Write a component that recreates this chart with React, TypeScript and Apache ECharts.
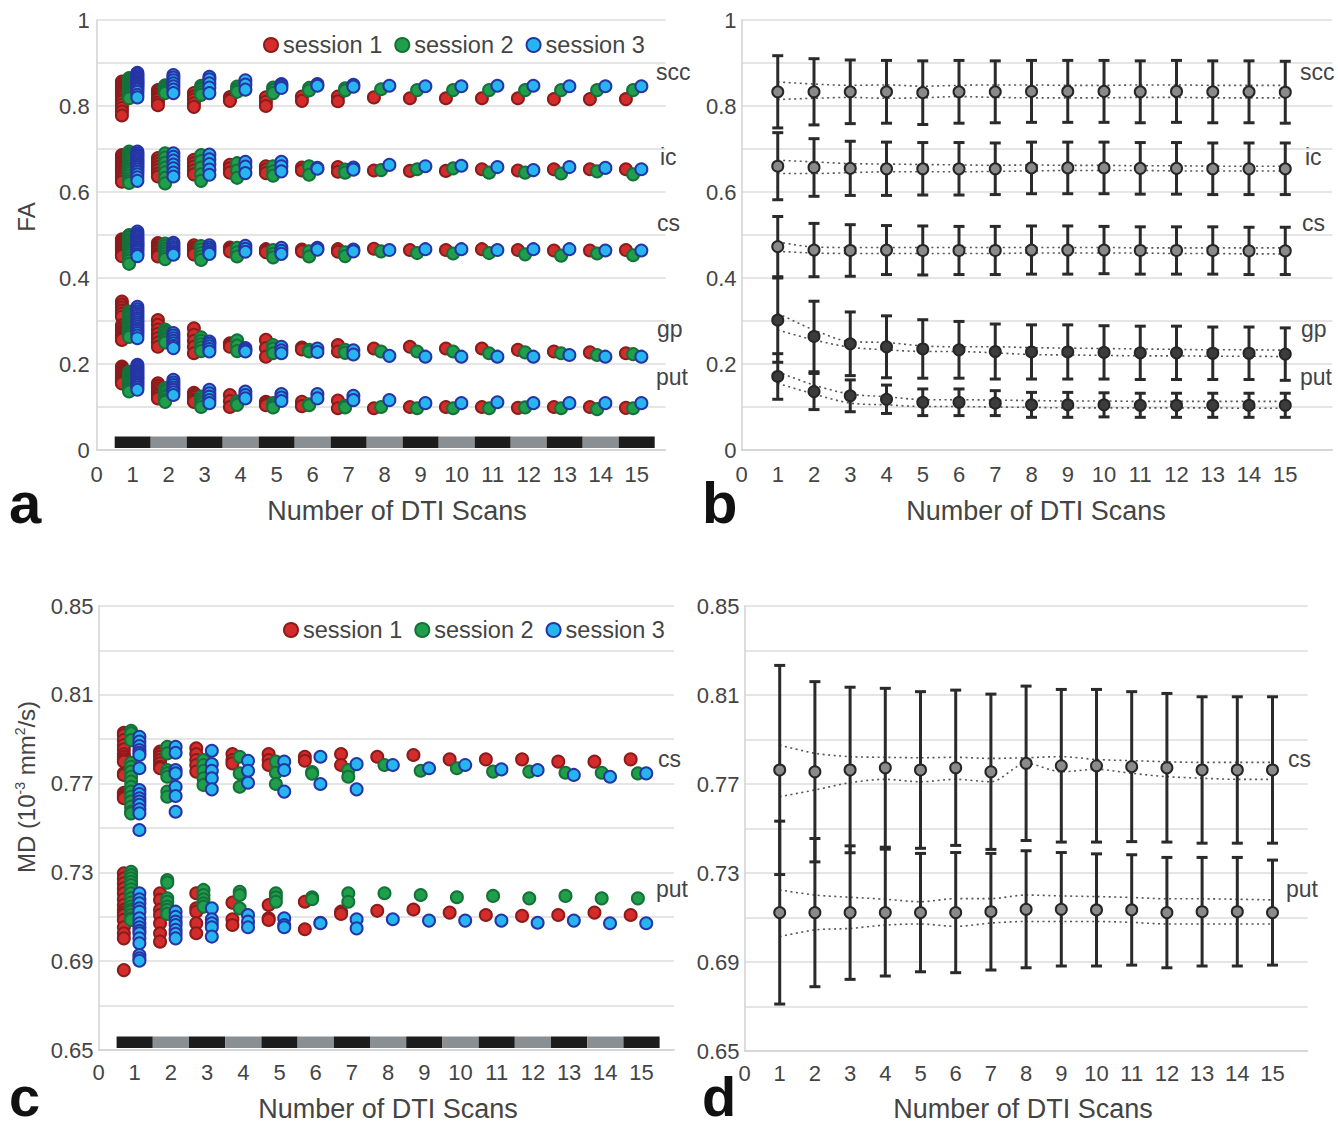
import React, { useEffect, useRef } from 'react';
import * as echarts from 'echarts';

const FONT = '"Liberation Sans", Arial, Helvetica, sans-serif';

// ---------- categories ----------
const scans = [1, 2, 3, 4, 5, 6, 7, 8, 9, 10, 11, 12, 13, 14, 15];
const sessions = ['session 1', 'session 2', 'session 3'];
const faRegions = ['scc', 'ic', 'cs', 'gp', 'put'];
const mdRegions = ['cs', 'put'];
const xTitle = 'Number of DTI Scans';

// ---------- panel a: FA per session (one inner list per number of scans) ----------
const faScc1 = [[0.857,0.852,0.847,0.842,0.838,0.834,0.83,0.826,0.821,0.815,0.81,0.803,0.795,0.787,0.778],[0.837,0.832,0.826,0.82,0.815,0.808,0.802],[0.83,0.822,0.815,0.806,0.798],[0.821,0.816,0.812],[0.82,0.81,0.8],[0.822,0.812],[0.822,0.811],[0.82],[0.818],[0.818],[0.818],[0.818],[0.816],[0.816],[0.816]];
const faScc2 = [[0.865,0.862,0.858,0.855,0.851,0.848,0.845,0.842,0.839,0.836,0.833,0.83,0.826,0.822,0.818],[0.848,0.845,0.842,0.839,0.836,0.833,0.83],[0.847,0.842,0.838,0.832,0.826],[0.845,0.839,0.833],[0.843,0.837,0.83],[0.842,0.836],[0.841,0.836],[0.839],[0.837],[0.837],[0.837],[0.837],[0.837],[0.837],[0.837]];
const faScc3 = [[0.877,0.873,0.869,0.865,0.862,0.858,0.855,0.852,0.849,0.846,0.842,0.838,0.833,0.826,0.82],[0.872,0.866,0.86,0.853,0.846,0.838,0.83],[0.868,0.862,0.853,0.843,0.83],[0.86,0.85,0.838],[0.851,0.847,0.842],[0.851,0.847],[0.849,0.845],[0.847],[0.846],[0.846],[0.847],[0.847],[0.846],[0.846],[0.846]];

const faIc1 = [[0.686,0.682,0.678,0.674,0.67,0.666,0.662,0.658,0.654,0.65,0.646,0.641,0.636,0.63,0.624],[0.679,0.672,0.665,0.658,0.651,0.643,0.636],[0.675,0.667,0.659,0.65,0.641],[0.663,0.655,0.645],[0.66,0.652,0.644],[0.657,0.65],[0.658,0.647],[0.65],[0.649],[0.649],[0.653],[0.65],[0.653],[0.653],[0.653]];
const faIc2 = [[0.694,0.689,0.684,0.679,0.674,0.669,0.664,0.659,0.654,0.649,0.644,0.638,0.632,0.626,0.621],[0.69,0.68,0.668,0.657,0.646,0.633,0.62],[0.686,0.672,0.657,0.641,0.626],[0.667,0.65,0.633],[0.66,0.648,0.638],[0.66,0.64],[0.652,0.645],[0.651],[0.653],[0.655],[0.645],[0.645],[0.643],[0.648],[0.641]];
const faIc3 = [[0.694,0.69,0.686,0.682,0.677,0.673,0.669,0.665,0.661,0.657,0.652,0.647,0.641,0.634,0.626],[0.69,0.682,0.673,0.664,0.655,0.645,0.636],[0.687,0.676,0.665,0.652,0.64],[0.67,0.659,0.644],[0.67,0.66,0.648],[0.656,0.654],[0.657,0.652],[0.663],[0.66],[0.661],[0.658],[0.651],[0.658],[0.656],[0.653]];

const faCs1 = [[0.49,0.487,0.484,0.481,0.478,0.475,0.472,0.469,0.467,0.464,0.462,0.459,0.456,0.453,0.451],[0.481,0.476,0.471,0.466,0.461,0.455,0.45],[0.476,0.47,0.465,0.46,0.455],[0.471,0.466,0.462],[0.467,0.463,0.46],[0.466,0.462],[0.467,0.461],[0.468],[0.465],[0.465],[0.467],[0.465],[0.464],[0.464],[0.465]];
const faCs2 = [[0.5,0.495,0.49,0.486,0.481,0.477,0.473,0.469,0.465,0.461,0.457,0.452,0.446,0.44,0.433],[0.48,0.474,0.468,0.462,0.456,0.45,0.444],[0.474,0.466,0.458,0.45,0.442],[0.47,0.46,0.45],[0.465,0.456,0.448],[0.462,0.45],[0.46,0.451],[0.462],[0.458],[0.457],[0.458],[0.455],[0.452],[0.457],[0.453]];
const faCs3 = [[0.508,0.503,0.498,0.494,0.49,0.486,0.482,0.479,0.476,0.472,0.468,0.464,0.46,0.455,0.451],[0.482,0.477,0.472,0.467,0.462,0.458,0.454],[0.476,0.471,0.466,0.461,0.456],[0.475,0.468,0.461],[0.47,0.463,0.456],[0.47,0.466],[0.466,0.462],[0.465],[0.467],[0.467],[0.465],[0.467],[0.467],[0.464],[0.464]];

const faGp1 = [[0.345,0.338,0.331,0.324,0.317,0.31,0.29,0.285,0.28,0.275,0.27,0.266,0.262,0.259,0.256],[0.302,0.291,0.28,0.27,0.26,0.25,0.24],[0.283,0.268,0.254,0.24,0.225],[0.248,0.244,0.24],[0.256,0.237,0.217],[0.238,0.234],[0.244,0.229],[0.236],[0.24],[0.236],[0.236],[0.233],[0.229],[0.227],[0.225]];
const faGp2 = [[0.322,0.318,0.314,0.31,0.305,0.3,0.296,0.292,0.288,0.284,0.28,0.276,0.272,0.268,0.263],[0.28,0.275,0.27,0.265,0.26,0.255,0.25],[0.262,0.254,0.246,0.238,0.23],[0.255,0.243,0.23],[0.244,0.236,0.225],[0.233,0.229],[0.233,0.226],[0.229],[0.229],[0.229],[0.225],[0.227],[0.225],[0.221],[0.223]];
const faGp3 = [[0.333,0.327,0.322,0.317,0.312,0.307,0.302,0.297,0.292,0.287,0.282,0.277,0.272,0.266,0.26],[0.272,0.266,0.26,0.254,0.248,0.242,0.237],[0.252,0.247,0.241,0.235,0.229],[0.237,0.233,0.229],[0.24,0.232,0.225],[0.236,0.228],[0.232,0.222],[0.219],[0.217],[0.217],[0.217],[0.217],[0.221],[0.217],[0.217]];

const faPut1 = [[0.194,0.19,0.187,0.184,0.181,0.178,0.175,0.172,0.169,0.166,0.164,0.161,0.159,0.157,0.155],[0.155,0.149,0.143,0.137,0.131,0.126,0.12],[0.133,0.128,0.123,0.117,0.112],[0.128,0.114,0.1],[0.112,0.108,0.104],[0.112,0.102],[0.115,0.097],[0.097],[0.1],[0.1],[0.1],[0.098],[0.1],[0.1],[0.098]];
const faPut2 = [[0.182,0.178,0.175,0.172,0.168,0.165,0.162,0.159,0.156,0.153,0.15,0.147,0.143,0.14,0.136],[0.144,0.139,0.134,0.128,0.123,0.117,0.112],[0.124,0.118,0.112,0.106,0.1],[0.113,0.109,0.105],[0.109,0.104,0.099],[0.106,0.104],[0.103,0.099],[0.1],[0.097],[0.097],[0.097],[0.099],[0.097],[0.095],[0.097]];
const faPut3 = [[0.198,0.194,0.19,0.186,0.182,0.178,0.174,0.17,0.166,0.162,0.158,0.154,0.15,0.145,0.14],[0.163,0.157,0.151,0.145,0.14,0.134,0.128],[0.14,0.132,0.124,0.116,0.109],[0.136,0.128,0.12],[0.13,0.122,0.114],[0.13,0.12],[0.126,0.116],[0.116],[0.109],[0.109],[0.111],[0.109],[0.109],[0.109],[0.109]];

// ---------- panel b: FA mean, SD and the two dotted envelope lines ----------
const faSccMean = [0.833,0.833,0.833,0.833,0.831,0.833,0.833,0.834,0.834,0.834,0.833,0.834,0.833,0.833,0.832];
const faSccSd = [0.084,0.077,0.074,0.073,0.074,0.073,0.072,0.072,0.072,0.072,0.072,0.072,0.072,0.072,0.072];
const faSccUp = [0.856,0.851,0.848,0.849,0.846,0.848,0.849,0.849,0.848,0.848,0.849,0.849,0.848,0.848,0.848];
const faSccLow = [0.815,0.818,0.82,0.818,0.819,0.822,0.82,0.819,0.819,0.819,0.82,0.82,0.819,0.819,0.819];

const faIcMean = [0.66,0.657,0.655,0.654,0.654,0.654,0.654,0.656,0.656,0.656,0.655,0.655,0.654,0.654,0.654];
const faIcSd = [0.078,0.067,0.063,0.062,0.061,0.061,0.06,0.06,0.06,0.06,0.06,0.06,0.06,0.06,0.06];
const faIcUp = [0.674,0.67,0.666,0.665,0.664,0.663,0.662,0.663,0.662,0.662,0.661,0.661,0.66,0.66,0.66];
const faIcLow = [0.643,0.643,0.645,0.647,0.647,0.647,0.648,0.649,0.65,0.65,0.65,0.649,0.649,0.649,0.649];

const faCsMean = [0.473,0.465,0.464,0.465,0.464,0.464,0.464,0.465,0.465,0.465,0.464,0.464,0.464,0.463,0.463];
const faCsSd = [0.07,0.062,0.06,0.057,0.057,0.056,0.056,0.056,0.056,0.055,0.055,0.055,0.055,0.055,0.055];
const faCsUp = [0.484,0.472,0.471,0.471,0.471,0.471,0.471,0.471,0.471,0.471,0.47,0.47,0.47,0.47,0.47];
const faCsLow = [0.462,0.458,0.457,0.457,0.457,0.457,0.457,0.458,0.458,0.458,0.458,0.457,0.457,0.456,0.456];

const faGpMean = [0.302,0.264,0.247,0.24,0.235,0.233,0.229,0.228,0.228,0.227,0.226,0.226,0.225,0.225,0.223];
const faGpSd = [0.098,0.082,0.074,0.072,0.068,0.066,0.064,0.063,0.063,0.062,0.062,0.062,0.061,0.061,0.061];
const faGpUp = [0.318,0.279,0.252,0.25,0.242,0.24,0.24,0.238,0.237,0.236,0.235,0.234,0.233,0.233,0.232];
const faGpLow = [0.279,0.256,0.239,0.233,0.229,0.229,0.226,0.222,0.221,0.22,0.219,0.219,0.218,0.218,0.217];

const faPutMean = [0.171,0.136,0.126,0.118,0.111,0.111,0.109,0.105,0.105,0.105,0.104,0.104,0.104,0.104,0.104];
const faPutSd = [0.053,0.042,0.037,0.033,0.031,0.031,0.029,0.029,0.029,0.028,0.028,0.028,0.028,0.028,0.028];
const faPutUp = [0.182,0.151,0.13,0.124,0.117,0.117,0.116,0.115,0.114,0.114,0.113,0.113,0.113,0.113,0.113];
const faPutLow = [0.155,0.13,0.109,0.105,0.101,0.101,0.1,0.099,0.098,0.098,0.098,0.098,0.098,0.097,0.097];

// ---------- panel c: MD per session ----------
const mdCs1 = [[0.7929,0.7919,0.7896,0.7874,0.7854,0.7833,0.7821,0.7809,0.7799,0.7746,0.7739,0.7659,0.7649,0.7641,0.7634],[0.7844,0.7833,0.7821,0.7806,0.7791,0.7776,0.7769],[0.7859,0.7833,0.7806,0.7784,0.7754],[0.7833,0.7806,0.7791],[0.7833,0.7806,0.7784],[0.7821,0.7803],[0.7833,0.7784],[0.7821],[0.7829],[0.7809],[0.7809],[0.7809],[0.7799],[0.7799],[0.7809]];
const mdCs2 = [[0.7938,0.7927,0.7896,0.7794,0.7776,0.7754,0.7731,0.7709,0.7686,0.7664,0.7641,0.7619,0.7596,0.7573,0.7566],[0.7866,0.7836,0.7761,0.7746,0.7731,0.7664,0.7641],[0.7806,0.7784,0.7758,0.7724,0.7694],[0.7821,0.7746,0.7686],[0.7799,0.7749,0.7698],[0.7752,0.7745],[0.7761,0.7731],[0.7784],[0.7758],[0.7769],[0.7754],[0.7754],[0.7749],[0.7749],[0.7746]];
const mdCs3 = [[0.7911,0.7889,0.7869,0.7851,0.7839,0.7829,0.7769,0.7671,0.7653,0.7634,0.7619,0.7604,0.7584,0.7566,0.7491],[0.7866,0.7839,0.7761,0.7746,0.7686,0.7644,0.7573],[0.7848,0.7788,0.7758,0.7724,0.7674],[0.7803,0.7758,0.7704],[0.7799,0.7761,0.7664],[0.7821,0.7698],[0.7788,0.7674],[0.7784],[0.7769],[0.7784],[0.7764],[0.7761],[0.7739],[0.7731],[0.7746]];

const mdPut1 = [[0.7296,0.7273,0.7251,0.7228,0.7206,0.7179,0.7153,0.7131,0.7119,0.7108,0.7086,0.7053,0.7026,0.7003,0.686],[0.7206,0.7176,0.7131,0.7108,0.7071,0.7026,0.6988],[0.7206,0.7138,0.7123,0.7071,0.7026],[0.7164,0.7089,0.7063],[0.7153,0.7093,0.7086],[0.7168,0.7044],[0.7123,0.7113],[0.7127],[0.7133],[0.7119],[0.7108],[0.7104],[0.7108],[0.7119],[0.7108]];
const mdPut2 = [[0.7303,0.7288,0.7273,0.7258,0.7243,0.7224,0.7206,0.7183,0.7164,0.7146,0.7131,0.7123,0.7108,0.7093,0.7086],[0.7266,0.7254,0.7183,0.7168,0.7146,0.7131,0.7113],[0.7221,0.7198,0.7179,0.7161,0.7146],[0.7213,0.7198,0.7138],[0.7206,0.7188,0.7168],[0.7188,0.7179],[0.7206,0.7168],[0.7206],[0.7198],[0.7188],[0.7194],[0.7183],[0.7194],[0.7183],[0.7183]];
const mdPut3 = [[0.7206,0.7179,0.7161,0.7138,0.7123,0.7093,0.7071,0.7053,0.7037,0.7026,0.7003,0.6981,0.6928,0.6913,0.6902],[0.7123,0.71,0.7078,0.7063,0.7041,0.7023,0.7003],[0.7138,0.7089,0.7071,0.7053,0.7011],[0.7108,0.7078,0.7053],[0.7093,0.7063,0.7053],[0.7073,0.7071],[0.7089,0.7048],[0.7089],[0.7083],[0.7083],[0.7083],[0.7073],[0.7083],[0.7071],[0.7071]];

// ---------- panel d: MD mean, SD and dotted envelope lines ----------
const mdCsMean = [0.7763,0.7755,0.7763,0.7773,0.7763,0.7773,0.7755,0.7793,0.7782,0.7782,0.7778,0.7773,0.7763,0.7763,0.7763];
const mdCsSd = [0.047,0.0405,0.0372,0.0357,0.0352,0.0349,0.0349,0.0347,0.0343,0.0343,0.0337,0.0334,0.0329,0.0329,0.0329];
const mdCsUp = [0.7875,0.7838,0.7823,0.782,0.7818,0.782,0.7815,0.7818,0.7823,0.781,0.7805,0.78,0.7797,0.7797,0.7797];
const mdCsLow = [0.7643,0.7673,0.7706,0.7721,0.771,0.7721,0.771,0.7793,0.7755,0.7766,0.7748,0.7733,0.7726,0.7721,0.7721];
const mdPutMean = [0.7122,0.7122,0.7122,0.7122,0.7122,0.7122,0.7126,0.7137,0.7137,0.7134,0.7134,0.7122,0.7126,0.7126,0.7122];
const mdPutSd = [0.0411,0.0333,0.03,0.0285,0.0266,0.027,0.0262,0.0263,0.0255,0.0252,0.0248,0.0248,0.0244,0.0244,0.0236];
const mdPutUp = [0.7224,0.7201,0.7191,0.7182,0.7171,0.7185,0.7185,0.7201,0.7197,0.7194,0.719,0.7184,0.7184,0.7182,0.7179];
const mdPutLow = [0.7014,0.7044,0.7051,0.7066,0.7071,0.706,0.7075,0.7082,0.7082,0.7082,0.7078,0.7071,0.7071,0.7071,0.7071];

// ---------- styling / layout ----------
const sessOffset = [-0.3, -0.1, 0.13];
const sessStyle = [
  { color: '#d42b2b', borderColor: '#8c1c1c' },
  { color: '#1f9f4a', borderColor: '#15713a' },
  { color: '#27b5ef', borderColor: '#2634a6' },
];
const labelColor = '#444';
const gridColor = '#dcdcdc';
const axisColor = '#d2d2d2';

const grids = [
  { left: 96.7, top: 20, width: 568.8, height: 430, xMax: 15.8 },
  { left: 741.5, top: 20, width: 590.9, height: 430, xMax: 16.3 },
  { left: 98.5, top: 606, width: 575.6, height: 444, xMax: 15.9 },
  { left: 744.5, top: 606, width: 563.2, height: 445, xMax: 16.0 },
];

function intLabel(v: number) {
  const r = Math.round(v);
  return Math.abs(v - r) < 1e-6 && r <= 15 ? String(r) : '';
}
function faLabel(v: number) {
  const k = Math.round(v * 10);
  return k % 2 === 0 ? String(k / 10) : '';
}
function mdLabel(v: number) {
  const k = Math.round((v - 0.65) / 0.02);
  return k % 2 === 0 ? v.toFixed(2) : '';
}

function sessionScatter(regionSets: number[][][][], gi: number) {
  return sessions.map((name, k) => ({
    name,
    type: 'scatter',
    xAxisIndex: gi,
    yAxisIndex: gi,
    symbol: 'circle',
    symbolSize: 12,
    z: 3 + k,
    itemStyle: { ...sessStyle[k], borderWidth: 2, opacity: 1 },
    data: regionSets.flatMap((reg) =>
      reg[k].flatMap((vals, i) => vals.map((v) => [scans[i] + sessOffset[k], v]))
    ),
  }));
}

function scanBar(gi: number, yMin: number) {
  return {
    type: 'custom',
    xAxisIndex: gi,
    yAxisIndex: gi,
    z: 2,
    data: scans.map((n) => [n, yMin]),
    encode: { x: 0, y: 1 },
    renderItem: (params: any, api: any) => {
      const n = api.value(0);
      const p0 = api.coord([n - 0.5, yMin]);
      const p1 = api.coord([n + 0.5, yMin]);
      return {
        type: 'rect',
        shape: { x: p0[0], y: p0[1] - 13.5, width: p1[0] - p0[0], height: 11.5 },
        style: { fill: n % 2 === 1 ? '#1c1c1c' : '#8a8f93' },
      };
    },
  };
}

function errorSeries(gi: number, mean: number[], sd: number[], fill: string) {
  const stroke = '#2a2a2a';
  return [
    {
      type: 'custom',
      xAxisIndex: gi,
      yAxisIndex: gi,
      z: 4,
      data: scans.map((n, i) => [n, mean[i] - sd[i], mean[i] + sd[i]]),
      encode: { x: 0, y: [1, 2] },
      renderItem: (params: any, api: any) => {
        const x = api.value(0);
        const lo = api.coord([x, api.value(1)]);
        const hi = api.coord([x, api.value(2)]);
        const w = 5.5;
        const st = { stroke, lineWidth: 3 };
        return {
          type: 'group',
          children: [
            { type: 'line', shape: { x1: lo[0], y1: lo[1], x2: hi[0], y2: hi[1] }, style: st },
            { type: 'line', shape: { x1: lo[0] - w, y1: lo[1], x2: lo[0] + w, y2: lo[1] }, style: st },
            { type: 'line', shape: { x1: hi[0] - w, y1: hi[1], x2: hi[0] + w, y2: hi[1] }, style: st },
          ],
        };
      },
    },
    {
      type: 'scatter',
      xAxisIndex: gi,
      yAxisIndex: gi,
      z: 5,
      symbol: 'circle',
      symbolSize: 11,
      itemStyle: { color: fill, borderColor: '#262626', borderWidth: 2, opacity: 1 },
      data: scans.map((n, i) => [n, mean[i]]),
    },
  ];
}

function dotted(gi: number, vals: number[]) {
  return {
    type: 'line',
    xAxisIndex: gi,
    yAxisIndex: gi,
    z: 3,
    symbol: 'none',
    smooth: 0.3,
    lineStyle: { color: '#555', width: 1.6, type: [2, 3.5] },
    data: scans.map((n, i) => [n, vals[i]]),
  };
}

function text(x: number, y: number, t: string, size: number, extra: any = {}) {
  return {
    type: 'text',
    x,
    y,
    silent: true,
    style: {
      text: t,
      fontFamily: FONT,
      fontSize: size,
      fill: labelColor,
      align: 'left',
      textAlign: 'left',
      verticalAlign: 'middle',
      textVerticalAlign: 'middle',
      ...extra,
    },
  };
}

const faLabelPos = [
  [656, 72], [660, 157], [657, 223], [657, 329], [656, 377],
];
const faLabelPosB = [
  [1300, 72], [1305, 157], [1302, 223], [1301, 329], [1300, 377],
];
const mdLabelPos = [[658, 759], [656, 889]];
const mdLabelPosD = [[1288, 759], [1286, 889]];

export default function App() {
  const ref = useRef<HTMLDivElement>(null);

  useEffect(() => {
    document.body.style.margin = '0';
    const chart = echarts.init(ref.current!, null, { renderer: 'svg' });

    const xAxes = grids.map((g, gi) => ({
      gridIndex: gi,
      type: 'value',
      min: 0,
      max: g.xMax,
      interval: 1,
      axisLine: { show: true, lineStyle: { color: axisColor, width: 1.5 } },
      axisTick: { show: false },
      splitLine: { show: false },
      axisLabel: {
        formatter: intLabel,
        fontSize: 22,
        color: labelColor,
        fontFamily: FONT,
        margin: gi < 2 ? 13 : 11,
      },
    }));

    const yAxes = grids.map((g, gi) => {
      const isFA = gi < 2;
      return {
        gridIndex: gi,
        type: 'value',
        min: isFA ? 0 : 0.65,
        max: isFA ? 1 : 0.85,
        interval: isFA ? 0.1 : 0.02,
        axisLine: { show: true, lineStyle: { color: axisColor, width: 1.5 } },
        axisTick: { show: false },
        splitLine: { show: true, lineStyle: { color: gridColor, width: 1.5 } },
        axisLabel: {
          formatter: isFA ? faLabel : mdLabel,
          fontSize: 22,
          color: labelColor,
          fontFamily: FONT,
          margin: gi === 0 ? 7 : 5,
        },
      };
    });

    const faSets = [
      [faScc1, faScc2, faScc3],
      [faIc1, faIc2, faIc3],
      [faCs1, faCs2, faCs3],
      [faGp1, faGp2, faGp3],
      [faPut1, faPut2, faPut3],
    ];
    const mdSets = [
      [mdCs1, mdCs2, mdCs3],
      [mdPut1, mdPut2, mdPut3],
    ];

    const faB = [
      [faSccMean, faSccSd, faSccUp, faSccLow, '#8a8a8a'],
      [faIcMean, faIcSd, faIcUp, faIcLow, '#8a8a8a'],
      [faCsMean, faCsSd, faCsUp, faCsLow, '#8a8a8a'],
      [faGpMean, faGpSd, faGpUp, faGpLow, '#3c3c3c'],
      [faPutMean, faPutSd, faPutUp, faPutLow, '#3c3c3c'],
    ] as any[];
    const mdD = [
      [mdCsMean, mdCsSd, mdCsUp, mdCsLow, '#8a8a8a'],
      [mdPutMean, mdPutSd, mdPutUp, mdPutLow, '#8a8a8a'],
    ] as any[];

    const series: any[] = [
      scanBar(0, 0),
      ...sessionScatter(faSets, 0),
      scanBar(2, 0.65),
      ...sessionScatter(mdSets, 2),
    ];
    faB.forEach(([m, s, u, l, f]) => {
      series.push(dotted(1, u), dotted(1, l), ...errorSeries(1, m, s, f));
    });
    mdD.forEach(([m, s, u, l, f]) => {
      series.push(dotted(3, u), dotted(3, l), ...errorSeries(3, m, s, f));
    });

    const legendBase = {
      data: sessions,
      icon: 'circle',
      itemWidth: 14,
      itemHeight: 14,
      itemGap: 12,
      selectedMode: false,
      textStyle: { fontSize: 23.5, color: labelColor, fontFamily: FONT },
      padding: 0,
    };

    const graphics: any[] = [];
    faRegions.forEach((r, i) => {
      graphics.push(text(faLabelPos[i][0], faLabelPos[i][1], r, 23));
      graphics.push(text(faLabelPosB[i][0], faLabelPosB[i][1], r, 23));
    });
    mdRegions.forEach((r, i) => {
      graphics.push(text(mdLabelPos[i][0], mdLabelPos[i][1], r, 23));
      graphics.push(text(mdLabelPosD[i][0], mdLabelPosD[i][1], r, 23));
    });
    // axis titles
    const center = { align: 'center', textAlign: 'center' };
    graphics.push(text(397, 511, xTitle, 27, center));
    graphics.push(text(1036, 511, xTitle, 27, center));
    graphics.push(text(388, 1109, xTitle, 27, center));
    graphics.push(text(1023, 1109, xTitle, 27, center));
    graphics.push({ ...text(26, 217, 'FA', 24, center), rotation: Math.PI / 2 });
    graphics.push({
      ...text(26, 787, 'MD (10{sup|-3} mm{sup|2}/s)', 24, {
        ...center,
        rich: { sup: { fontSize: 14, verticalAlign: 'top', fontFamily: FONT, fill: labelColor, lineHeight: 26 } },
      }),
      rotation: Math.PI / 2,
    });
    // panel letters
    const letter = { fill: '#111', fontWeight: 'bold', lineHeight: 44 };
    graphics.push(text(9, 502, 'a', 58, letter));
    graphics.push(text(702, 502, 'b', 58, letter));
    graphics.push(text(9, 1096, 'c', 56, letter));
    graphics.push(text(702, 1096, 'd', 56, letter));

    chart.setOption({
      animation: false,
      textStyle: { fontFamily: FONT },
      grid: grids.map((g) => ({ left: g.left, top: g.top, width: g.width, height: g.height })),
      xAxis: xAxes,
      yAxis: yAxes,
      legend: [
        { ...legendBase, left: 263, top: 33 },
        { ...legendBase, left: 283, top: 618 },
      ],
      series,
      graphic: graphics,
    });

    return () => chart.dispose();
  }, []);

  return <div ref={ref} style={{ width: 1338, height: 1128 }} />;
}
